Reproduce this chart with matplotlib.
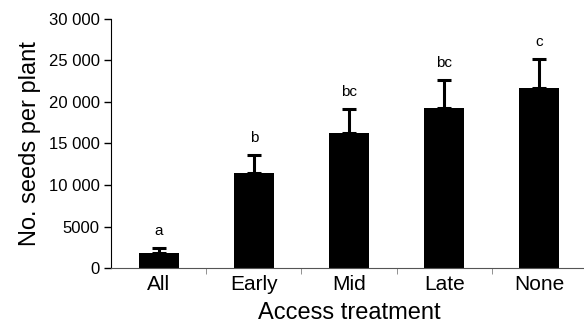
import matplotlib.pyplot as plt
import numpy as np

treatments = ["All", "Early", "Mid", "Late", "None"]
seeds_mean = [1800, 11450, 16300, 19300, 21700]
seeds_err = [600, 2150, 2800, 3300, 3500]
letters = ["a", "b", "bc", "bc", "c"]

plt.rcParams['font.family'] = ['Liberation Sans', 'DejaVu Sans']

fig = plt.figure(figsize=(5.84, 3.25), dpi=100)
ax = fig.add_axes([0.19, 0.175, 0.815, 0.767])

x = np.arange(len(treatments))
ax.bar(x, seeds_mean, width=0.42, color='black', zorder=2)
ax.errorbar(x, seeds_mean, yerr=[np.zeros(len(x)), seeds_err], fmt='none',
            ecolor='black', elinewidth=2.2, capsize=5, capthick=2.2, zorder=1)

for xi, m, e, lab in zip(x, seeds_mean, seeds_err, letters):
    ax.text(xi, m + e + 1200, lab, ha='center', va='bottom', fontsize=11)

ax.set_xlim(-0.5, len(treatments) - 0.5)
ax.set_ylim(0, 30000)
ax.set_yticks(range(0, 30001, 5000))
ax.set_yticklabels(["0", "5000", "10 000", "15 000", "20 000", "25 000", "30 000"], fontsize=12)
ax.set_xticks(x)
ax.set_xticklabels(treatments, fontsize=15)
ax.set_xticks(np.arange(0.5, len(treatments) - 0.5, 1), minor=True)
ax.tick_params(axis='x', which='major', length=0, pad=5)
ax.tick_params(axis='x', which='minor', length=4, color='gray', direction='out')
ax.tick_params(axis='y', length=5, width=1, pad=3)

for side in ['top', 'right']:
    ax.spines[side].set_visible(False)
ax.spines['bottom'].set_color('#555555')

ax.set_xlabel("Access treatment", fontsize=17, labelpad=6)
ax.set_ylabel("No. seeds per plant", fontsize=17, labelpad=6)

fig.savefig("out.png", dpi=100)
